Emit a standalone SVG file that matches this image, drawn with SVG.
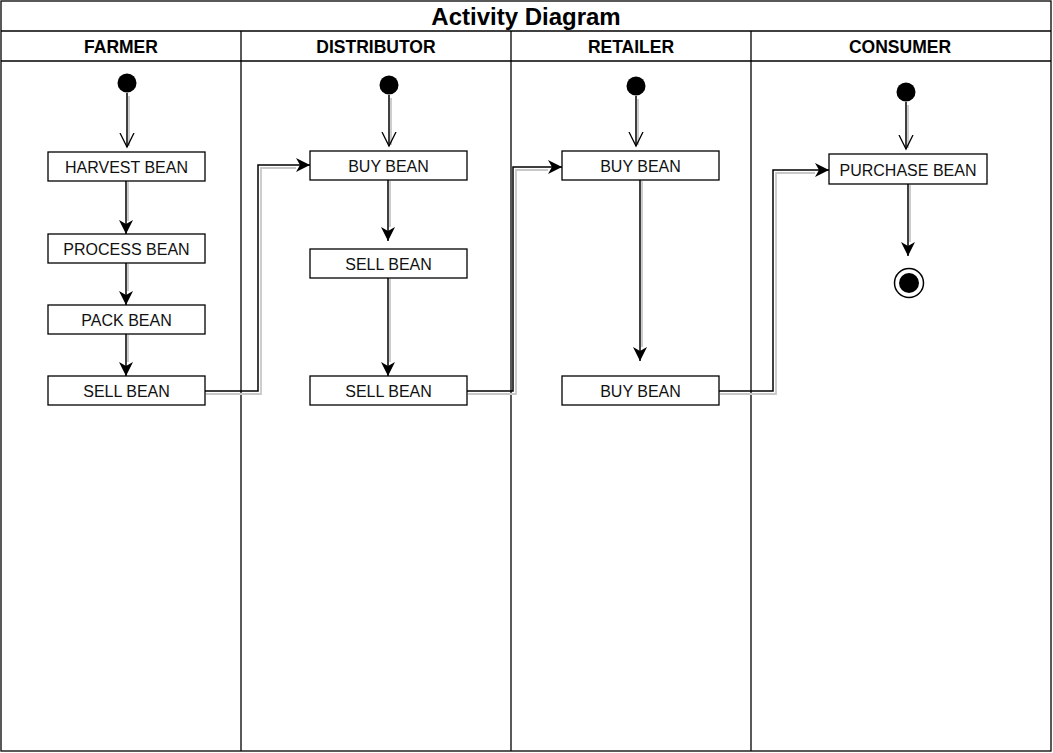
<svg xmlns="http://www.w3.org/2000/svg" width="1053" height="753" viewBox="0 0 1053 753">
<style>
.frame{fill:#fff;stroke:#000;stroke-width:1.3}
.box{fill:#fff;stroke:#000;stroke-width:1.3}
.t{font-family:"Liberation Sans",Arial,sans-serif;font-size:16px;fill:#111;text-anchor:middle}
.h{font-family:"Liberation Sans",Arial,sans-serif;font-size:17.5px;font-weight:bold;fill:#000;text-anchor:middle}
.title{font-family:"Liberation Sans",Arial,sans-serif;font-size:24px;font-weight:bold;fill:#000;text-anchor:middle}
.c{fill:none;stroke:#000;stroke-width:1.5}
.s{fill:none;stroke:#c8c8c8;stroke-width:1.8}
</style>
<defs>
<marker id="fa" markerWidth="15" markerHeight="15" refX="14" refY="7.5" orient="auto" markerUnits="userSpaceOnUse" viewBox="0 0 15 15">
<path d="M0,0.5 L14,7.5 L0,14.5 L4,7.5 Z" fill="#000"/>
</marker>
<marker id="oa" markerWidth="16" markerHeight="16" refX="14" refY="8" orient="auto" markerUnits="userSpaceOnUse" viewBox="0 0 16 16">
<path d="M0,1 L14,8 L0,15" fill="none" stroke="#000" stroke-width="1.3"/>
</marker>
</defs>
<rect width="1053" height="753" fill="#fff"/>
<g id="pool">
<rect class="frame" x="1" y="1" width="1050" height="750"/>
<line class="frame" x1="1" y1="31" x2="1051" y2="31"/>
<line class="frame" x1="1" y1="61" x2="1051" y2="61"/>
<line class="frame" x1="241" y1="31" x2="241" y2="751"/>
<line class="frame" x1="511" y1="31" x2="511" y2="751"/>
<line class="frame" x1="751" y1="31" x2="751" y2="751"/>
<text class="title" x="526" y="25">Activity Diagram</text>
<text class="h" x="121" y="53">FARMER</text>
<text class="h" x="376" y="53">DISTRIBUTOR</text>
<text class="h" x="631" y="53">RETAILER</text>
<text class="h" x="900" y="53">CONSUMER</text>
</g>
<g id="connectors">
<g class="shadows">
<line class="s" x1="129" y1="96" x2="129" y2="146"/>
<line class="s" x1="391" y1="98" x2="391" y2="145"/>
<line class="s" x1="638" y1="99" x2="638" y2="145"/>
<line class="s" x1="908" y1="105" x2="908" y2="148"/>
<line class="s" x1="128" y1="182" x2="128" y2="221"/>
<line class="s" x1="128" y1="264" x2="128" y2="291"/>
<line class="s" x1="128" y1="335" x2="128" y2="362"/>
<polyline class="s" points="206,394 261,394 261,168 296,168"/>
<line class="s" x1="390" y1="181" x2="390" y2="227"/>
<line class="s" x1="390" y1="279" x2="390" y2="362"/>
<polyline class="s" points="468,394 516,394 516,170 548,170"/>
<line class="s" x1="642" y1="181" x2="642" y2="347"/>
<polyline class="s" points="720,394 776,394 776,173 815,173"/>
<line class="s" x1="910" y1="185" x2="910" y2="242"/>
</g>
<line class="c" x1="127" y1="93" x2="127" y2="147" marker-end="url(#oa)"/>
<line class="c" x1="389" y1="95" x2="389" y2="146" marker-end="url(#oa)"/>
<line class="c" x1="636" y1="96" x2="636" y2="146" marker-end="url(#oa)"/>
<line class="c" x1="906" y1="102" x2="906" y2="149" marker-end="url(#oa)"/>
<line class="c" x1="126" y1="181" x2="126" y2="234" marker-end="url(#fa)"/>
<line class="c" x1="126" y1="263" x2="126" y2="305" marker-end="url(#fa)"/>
<line class="c" x1="126" y1="334" x2="126" y2="376" marker-end="url(#fa)"/>
<polyline class="c" points="205,391 258,391 258,165 310,165" marker-end="url(#fa)"/>
<line class="c" x1="388" y1="180" x2="388" y2="241" marker-end="url(#fa)"/>
<line class="c" x1="388" y1="278" x2="388" y2="376" marker-end="url(#fa)"/>
<polyline class="c" points="467,391 513,391 513,167 562,167" marker-end="url(#fa)"/>
<line class="c" x1="640" y1="180" x2="640" y2="361" marker-end="url(#fa)"/>
<polyline class="c" points="719,391 773,391 773,170 829,170" marker-end="url(#fa)"/>
<line class="c" x1="908" y1="184" x2="908" y2="256" marker-end="url(#fa)"/>
</g>
<g id="farmer-start"><circle cx="127" cy="83" r="9.5" fill="#000"/></g>
<g id="distributor-start"><circle cx="389" cy="85" r="9.5" fill="#000"/></g>
<g id="retailer-start"><circle cx="636" cy="86" r="9.5" fill="#000"/></g>
<g id="consumer-start"><circle cx="906" cy="92" r="9.5" fill="#000"/></g>
<g id="harvest-bean"><rect class="box" x="48" y="152" width="157" height="29"/><text class="t" x="126.5" y="173">HARVEST BEAN</text></g>
<g id="process-bean"><rect class="box" x="48" y="234" width="157" height="29"/><text class="t" x="126.5" y="255">PROCESS BEAN</text></g>
<g id="pack-bean"><rect class="box" x="48" y="305" width="157" height="29"/><text class="t" x="126.5" y="326">PACK BEAN</text></g>
<g id="farmer-sell-bean"><rect class="box" x="48" y="376" width="157" height="29"/><text class="t" x="126.5" y="397">SELL BEAN</text></g>
<g id="distributor-buy-bean"><rect class="box" x="310" y="151" width="157" height="29"/><text class="t" x="388.5" y="172">BUY BEAN</text></g>
<g id="distributor-sell-bean-1"><rect class="box" x="310" y="249" width="157" height="29"/><text class="t" x="388.5" y="270">SELL BEAN</text></g>
<g id="distributor-sell-bean-2"><rect class="box" x="310" y="376" width="157" height="29"/><text class="t" x="388.5" y="397">SELL BEAN</text></g>
<g id="retailer-buy-bean-1"><rect class="box" x="562" y="151" width="157" height="29"/><text class="t" x="640.5" y="172">BUY BEAN</text></g>
<g id="retailer-buy-bean-2"><rect class="box" x="562" y="376" width="157" height="29"/><text class="t" x="640.5" y="397">BUY BEAN</text></g>
<g id="purchase-bean"><rect class="box" x="829" y="154" width="158" height="30"/><text class="t" x="908" y="175.5">PURCHASE BEAN</text></g>
<g id="consumer-end"><circle cx="909" cy="283" r="14.5" fill="#fff" stroke="#000" stroke-width="1.5"/><circle cx="909" cy="283" r="10" fill="#000"/></g>
</svg>
